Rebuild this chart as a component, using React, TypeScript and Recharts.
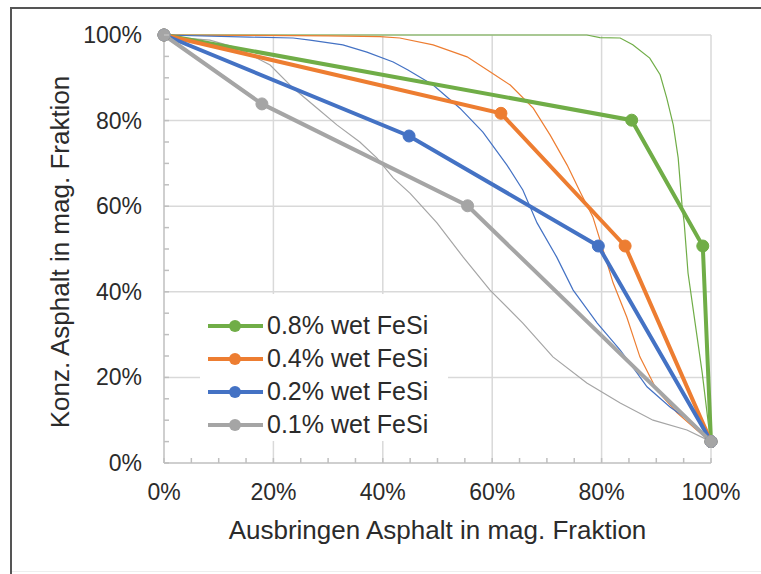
import React from 'react';
import { LineChart, Line, XAxis, YAxis, ReferenceLine, Legend, Label } from 'recharts';

// axis ticks (minor every 5%, labels every 20%)
const X_TICKS = [0, 5, 10, 15, 20, 25, 30, 35, 40, 45, 50, 55, 60, 65, 70, 75, 80, 85, 90, 95, 100];
const Y_TICKS = [0, 5, 10, 15, 20, 25, 30, 35, 40, 45, 50, 55, 60, 65, 70, 75, 80, 85, 90, 95, 100];
const GRID = [20, 40, 60, 80, 100];

const X_TITLE = 'Ausbringen Asphalt in mag. Fraktion';
const Y_TITLE = 'Konz. Asphalt in mag. Fraktion';

// thick lines with markers
const steps08 = [{ x: 0, y: 100 }, { x: 85.5, y: 80.1 }, { x: 98.5, y: 50.7 }, { x: 100, y: 5 }];
const steps04 = [{ x: 0, y: 100 }, { x: 61.6, y: 81.7 }, { x: 84.3, y: 50.7 }, { x: 100, y: 5 }];
const steps02 = [{ x: 0, y: 100 }, { x: 44.8, y: 76.4 }, { x: 79.4, y: 50.7 }, { x: 100, y: 5 }];
const steps01 = [{ x: 0, y: 100 }, { x: 17.9, y: 83.9 }, { x: 55.5, y: 60.1 }, { x: 100, y: 5 }];

// thin continuous curves
const curve08 = [
  { x: 0, y: 100 }, { x: 40, y: 100 }, { x: 77.3, y: 100 }, { x: 79.7, y: 99.4 }, { x: 83.4, y: 99.3 },
  { x: 85.7, y: 97.7 }, { x: 88.8, y: 94.6 }, { x: 90.7, y: 90.7 }, { x: 91.9, y: 85.3 }, { x: 93.1, y: 79 },
  { x: 94, y: 71.3 }, { x: 94.7, y: 60.3 }, { x: 95.1, y: 56.1 }, { x: 95.8, y: 44.4 }, { x: 97.1, y: 32.7 },
  { x: 98.4, y: 21 }, { x: 99.5, y: 9.3 }, { x: 100, y: 5 },
];
const curve04 = [
  { x: 0, y: 100 }, { x: 15.5, y: 99.9 }, { x: 30, y: 99.8 }, { x: 39.5, y: 99.6 }, { x: 43.1, y: 99.3 },
  { x: 49.2, y: 97.7 }, { x: 55.4, y: 94.9 }, { x: 59.6, y: 91.4 }, { x: 63.3, y: 88.3 }, { x: 67.5, y: 82.9 },
  { x: 70.6, y: 76.6 }, { x: 73.7, y: 69.6 }, { x: 76.2, y: 63 }, { x: 78.4, y: 57.5 }, { x: 80.1, y: 50.5 },
  { x: 82.1, y: 42.1 }, { x: 84.6, y: 34.1 }, { x: 87, y: 24.8 }, { x: 90.1, y: 17 }, { x: 93.8, y: 11.7 },
  { x: 97.4, y: 7.7 }, { x: 100, y: 5 },
];
const curve02 = [
  { x: 0, y: 100 }, { x: 15.7, y: 99.5 }, { x: 23.6, y: 99.3 }, { x: 26.7, y: 98.8 }, { x: 32.7, y: 97.7 },
  { x: 37.1, y: 96 }, { x: 41.9, y: 93.7 }, { x: 44.6, y: 91.8 }, { x: 49.2, y: 88.3 }, { x: 54.1, y: 82.9 },
  { x: 58.3, y: 77.3 }, { x: 62.7, y: 69.6 }, { x: 65.6, y: 63.8 }, { x: 68.2, y: 56.1 }, { x: 71.8, y: 48.1 },
  { x: 74.8, y: 40.4 }, { x: 79.2, y: 32.7 }, { x: 83.4, y: 26.4 }, { x: 86.5, y: 21 }, { x: 88.3, y: 17.8 },
  { x: 92.5, y: 13.1 }, { x: 96.7, y: 9.3 }, { x: 100, y: 5 },
];
const curve01 = [
  { x: 0, y: 100 }, { x: 1.6, y: 99.5 }, { x: 8.4, y: 98.8 }, { x: 13.3, y: 97 }, { x: 19.4, y: 93 },
  { x: 23.6, y: 87.6 }, { x: 28, y: 82.9 }, { x: 31.6, y: 79 }, { x: 35.8, y: 75 }, { x: 38.9, y: 71.3 },
  { x: 41.9, y: 66.6 }, { x: 45, y: 63 }, { x: 49.9, y: 56.1 }, { x: 54.7, y: 48.1 }, { x: 59.6, y: 40.4 },
  { x: 65.6, y: 32.7 }, { x: 71.1, y: 24.8 }, { x: 77.3, y: 18.7 }, { x: 83.4, y: 14 }, { x: 89.4, y: 10 },
  { x: 95.6, y: 7.7 }, { x: 100, y: 5 },
];

const SERIES = [
  { name: '0.8% wet FeSi', color: '#70AD47', steps: steps08, curve: curve08 },
  { name: '0.4% wet FeSi', color: '#ED7D31', steps: steps04, curve: curve04 },
  { name: '0.2% wet FeSi', color: '#4472C4', steps: steps02, curve: curve02 },
  { name: '0.1% wet FeSi', color: '#A5A5A5', steps: steps01, curve: curve01 },
];

const FONT = '"Liberation Sans", Arial, sans-serif';
const AXIS = '#bfbfbf';
const GRID_COLOR = '#d9d9d9';
const TEXT = '#2b2b2b';

const XTick = ({ x, y, payload }: any) => (
  <g>
    <line x1={x} y1={y} x2={x} y2={y - 5} stroke={AXIS} strokeWidth={1.5} />
    {payload.value % 20 === 0 && (
      <text x={x} y={y + 29} textAnchor="middle" dominantBaseline="central" fontSize={23} fill={TEXT} fontFamily={FONT}>
        {payload.value}%
      </text>
    )}
  </g>
);

const YTick = ({ x, y, payload }: any) => (
  <g>
    <line x1={x} y1={y} x2={x + 5} y2={y} stroke={AXIS} strokeWidth={1.5} />
    {payload.value % 20 === 0 && (
      <text x={x - 22} y={y} textAnchor="end" dominantBaseline="central" fontSize={23} fill={TEXT} fontFamily={FONT}>
        {payload.value}%
      </text>
    )}
  </g>
);

const renderLegend = () => (
  <div style={{ background: '#fff', padding: '15px 8px', boxSizing: 'border-box', width: 248, height: 147 }}>
    {SERIES.map((s) => (
      <div key={s.name} style={{ display: 'flex', alignItems: 'center', height: 33 }}>
        <svg width={55} height={16} style={{ flex: 'none' }}>
          <line x1={0} y1={8} x2={55} y2={8} stroke={s.color} strokeWidth={4} />
          <circle cx={27} cy={8} r={6} fill={s.color} />
        </svg>
        <span style={{ marginLeft: 4, fontSize: 25, color: TEXT, fontFamily: FONT, whiteSpace: 'nowrap' }}>{s.name}</span>
      </div>
    ))}
  </div>
);

export default function App() {
  return (
    <div style={{ position: 'fixed', left: 0, top: 0, width: 761, height: 574, overflow: 'hidden', background: '#fff' }}>
      {/* cropped chart frame: only left and top edges visible */}
      <div style={{ position: 'absolute', left: 10, top: 7, width: 820, height: 620, borderLeft: '2px solid #555', borderTop: '2px solid #555' }} />
      <div style={{ position: 'absolute', left: 12, top: 571, width: 760, height: 0, borderTop: '1px solid #eee' }} />
      <LineChart width={761} height={574} margin={{ top: 35, right: 50, bottom: 31, left: 10 }}>
        <XAxis
          dataKey="x"
          type="number"
          domain={[0, 100]}
          ticks={X_TICKS}
          interval={0}
          tickLine={false}
          tickSize={0}
          tickMargin={0}
          height={80}
          axisLine={{ stroke: AXIS, strokeWidth: 1.5 }}
          tick={<XTick />}
        >
          <Label
            position="insideBottom"
            offset={0}
            content={(p: any) => {
              const vb = p.viewBox;
              return (
                <text x={vb.x + vb.width / 2} y={vb.y + 67} textAnchor="middle" dominantBaseline="central" fontSize={26} fill={TEXT} fontFamily={FONT}>
                  {X_TITLE}
                </text>
              );
            }}
          />
        </XAxis>
        <YAxis
          dataKey="y"
          type="number"
          domain={[0, 100]}
          ticks={Y_TICKS}
          interval={0}
          tickLine={false}
          tickSize={0}
          tickMargin={0}
          width={154}
          axisLine={{ stroke: AXIS, strokeWidth: 1.5 }}
          tick={<YTick />}
        >
          <Label
            position="insideLeft"
            content={(p: any) => {
              const vb = p.viewBox;
              const cx = vb.x + 50;
              const cy = vb.y + vb.height / 2 + 3;
              return (
                <text x={cx} y={cy} transform={`rotate(-90, ${cx}, ${cy})`} textAnchor="middle" dominantBaseline="central" fontSize={26} fill={TEXT} fontFamily={FONT}>
                  {Y_TITLE}
                </text>
              );
            }}
          />
        </YAxis>
        {GRID.map((v) => (
          <ReferenceLine key={`gx${v}`} x={v} stroke={GRID_COLOR} strokeWidth={1.5} />
        ))}
        {GRID.map((v) => (
          <ReferenceLine key={`gy${v}`} y={v} stroke={GRID_COLOR} strokeWidth={1.5} />
        ))}
        <Legend
          layout="vertical"
          align="center"
          verticalAlign="middle"
          content={renderLegend}
          wrapperStyle={{ left: 200, top: 294, width: 248, height: 147 }}
        />
        {SERIES.map((s) => (
          <Line
            key={`c-${s.name}`}
            data={s.curve}
            dataKey="y"
            type="linear"
            stroke={s.color}
            strokeWidth={1.2}
            dot={false}
            activeDot={false}
            legendType="none"
            isAnimationActive={false}
          />
        ))}
        {SERIES.map((s) => (
          <Line
            key={`s-${s.name}`}
            data={s.steps}
            dataKey="y"
            name={s.name}
            type="linear"
            stroke={s.color}
            strokeWidth={4}
            dot={{ r: 6, fill: s.color, stroke: s.color, strokeWidth: 1 }}
            activeDot={false}
            isAnimationActive={false}
          />
        ))}
      </LineChart>
    </div>
  );
}
